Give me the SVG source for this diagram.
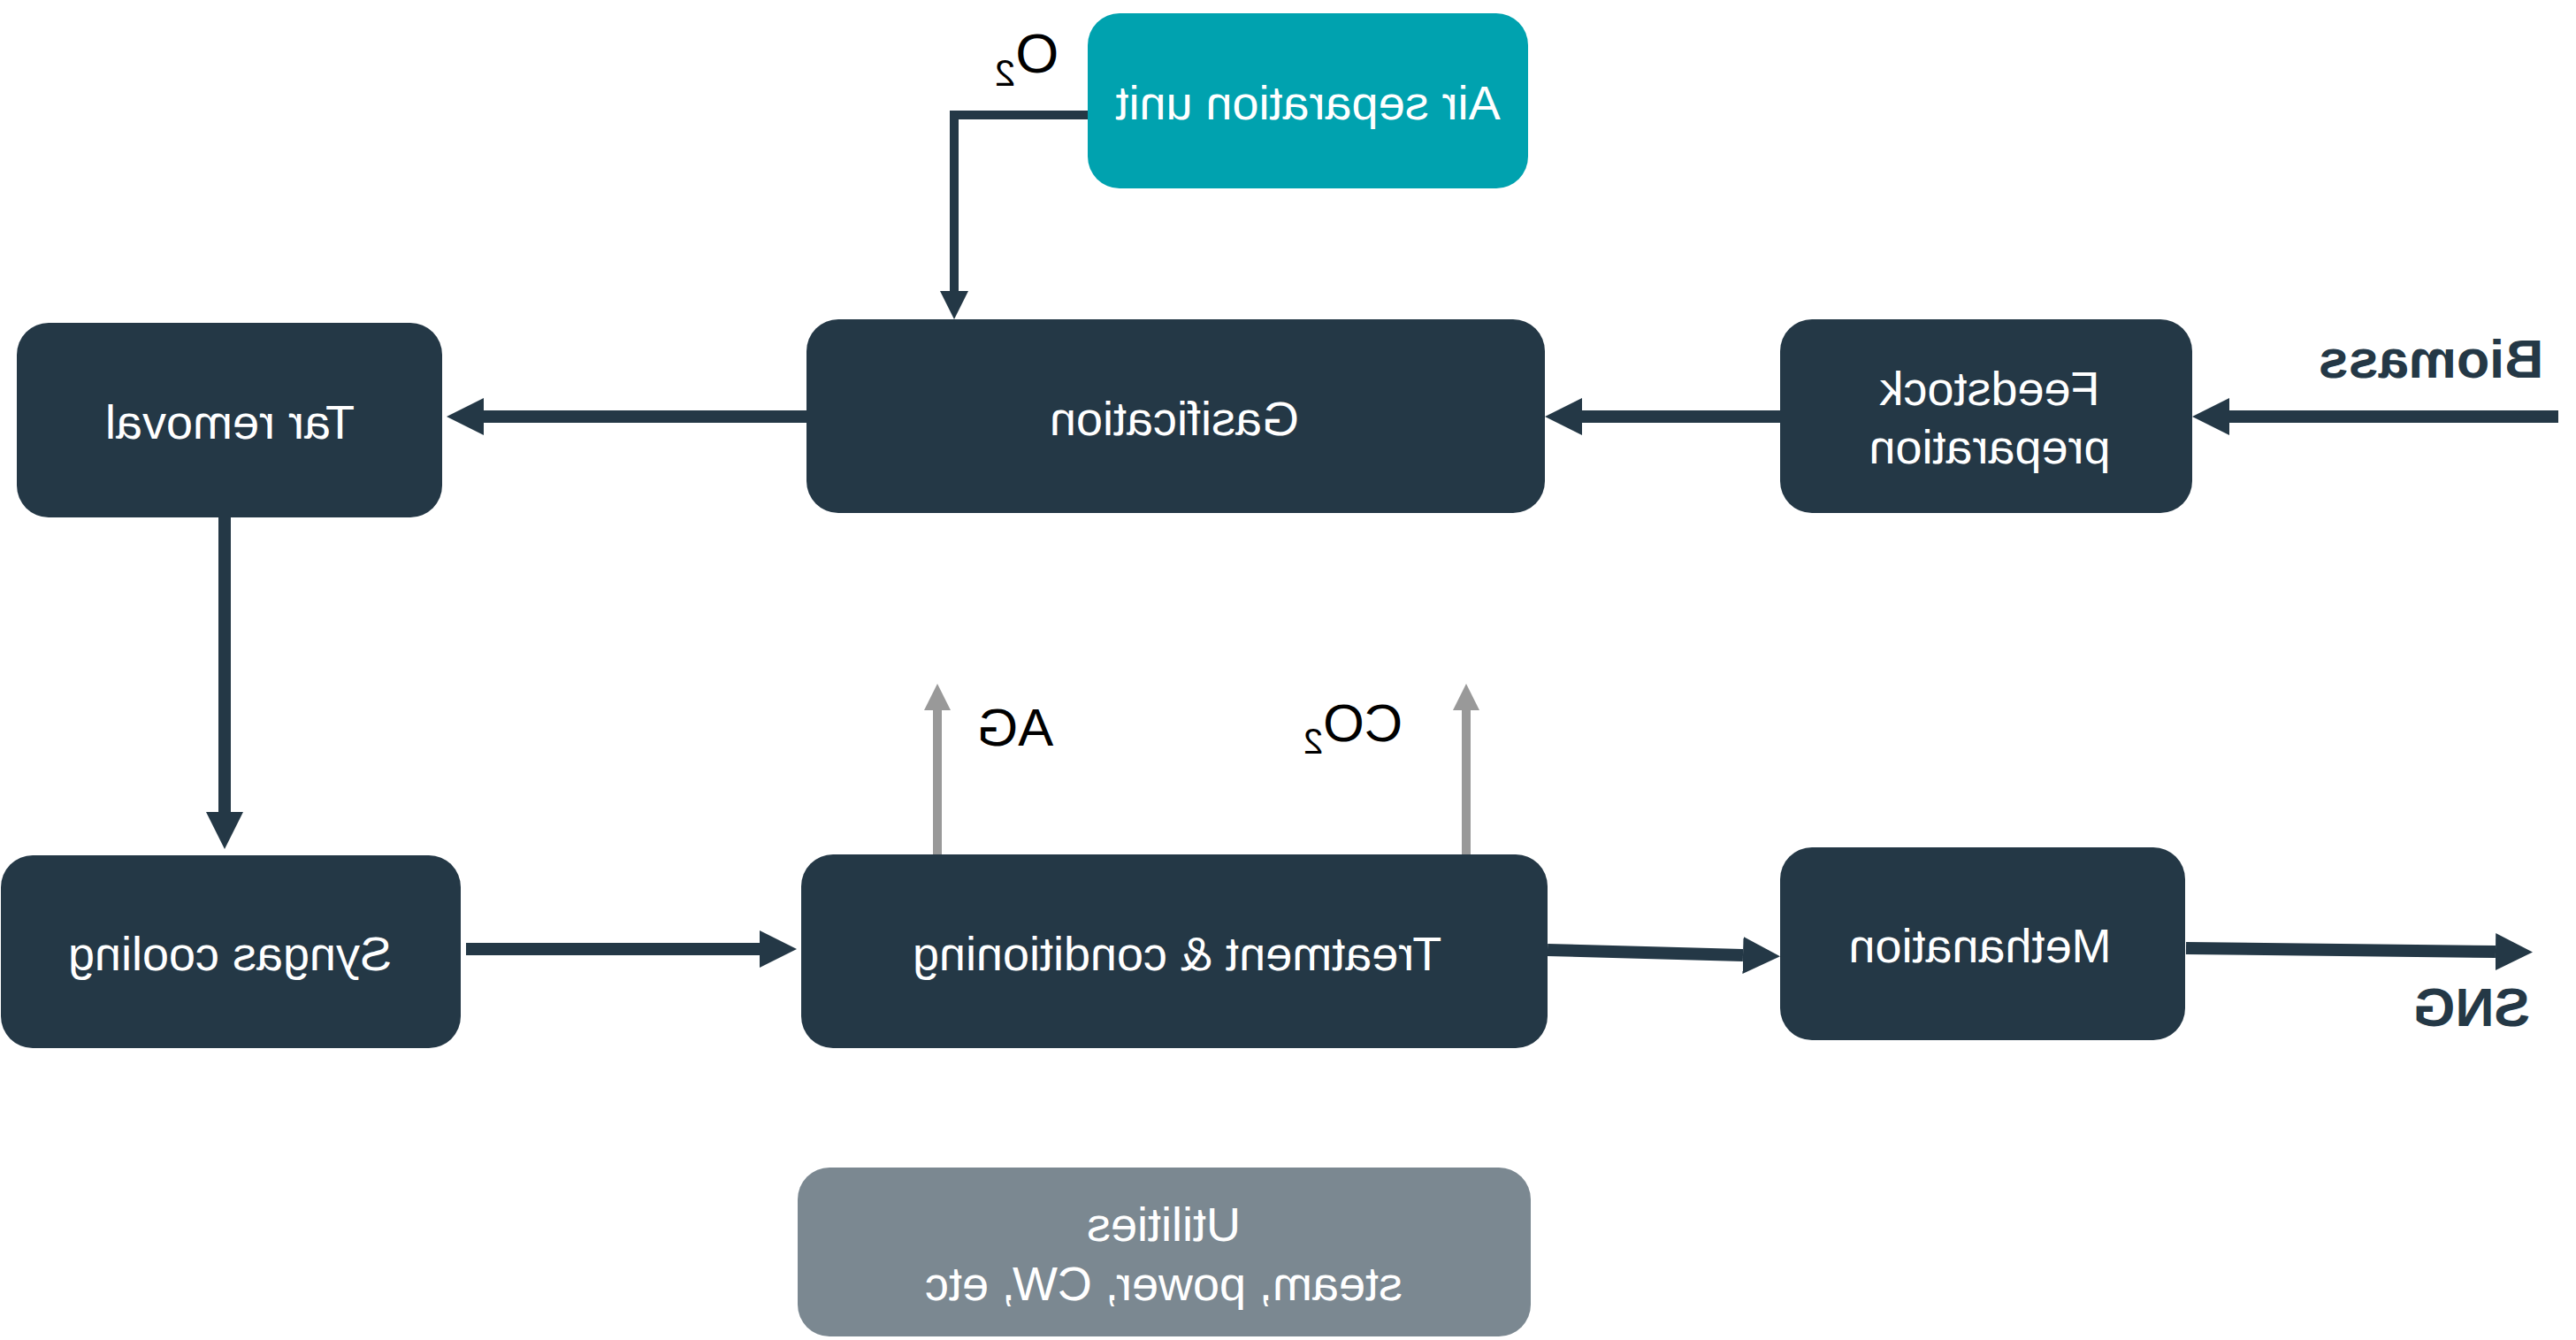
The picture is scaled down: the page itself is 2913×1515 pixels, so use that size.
<svg xmlns="http://www.w3.org/2000/svg" width="2913" height="1515" viewBox="0 0 2913 1515">
<style>
.box{fill:#243846}
.asu{fill:#00A2AF}
.util{fill:#7B8891}
.lbl{font-family:"Liberation Sans",Arial,sans-serif;font-size:54px;fill:#ffffff;text-anchor:middle}
.ext{font-family:"Liberation Sans",Arial,sans-serif;font-size:60px;fill:#000000;text-anchor:middle}
.bold{font-family:"Liberation Sans",Arial,sans-serif;font-size:61px;font-weight:bold;fill:#243846;text-anchor:middle}
.main{stroke:#243846;stroke-width:14;fill:none;marker-end:url(#ah)}
.o2{stroke:#243846;stroke-width:10;fill:none;marker-end:url(#ah2)}
.vent{stroke:#999999;stroke-width:10;fill:none;marker-end:url(#ahg)}
</style>
<defs>
<marker id="ah" markerUnits="userSpaceOnUse" markerWidth="42" markerHeight="42" refX="0" refY="21" orient="auto" viewBox="0 0 42 42"><path d="M0,0 L42,21 L0,42 z" fill="#243846"/></marker>
<marker id="ah2" markerUnits="userSpaceOnUse" markerWidth="32" markerHeight="32" refX="0" refY="16" orient="auto" viewBox="0 0 32 32"><path d="M0,0 L32,16 L0,32 z" fill="#243846"/></marker>
<marker id="ahg" markerUnits="userSpaceOnUse" markerWidth="30" markerHeight="30" refX="0" refY="15" orient="auto" viewBox="0 0 30 30"><path d="M0,0 L30,15 L0,30 z" fill="#999999"/></marker>
</defs>
<rect width="2913" height="1515" fill="#ffffff"/>
<g id="connectors">
<line class="main" x1="2893" y1="471" x2="2521" y2="471"/>
<line class="main" x1="2013" y1="471" x2="1789" y2="471"/>
<line class="main" x1="912" y1="471" x2="547" y2="471"/>
<line class="main" x1="254" y1="585" x2="254" y2="918"/>
<line class="main" x1="527" y1="1073" x2="859" y2="1073"/>
<line class="main" x1="1750" y1="1074" x2="1971" y2="1080"/>
<line class="main" x1="2472" y1="1072" x2="2822" y2="1076"/>
<path class="o2" d="M1230,130 H1079 V329"/>
<line class="vent" x1="1060" y1="966" x2="1060" y2="803"/>
<line class="vent" x1="1658" y1="966" x2="1658" y2="803"/>
</g>
<g id="asu">
<rect class="asu" x="1230" y="15" width="498" height="198" rx="36"/>
<text class="lbl" x="1479" y="135" transform="matrix(-1 0 0 1 2958 0)">Air separation unit</text>
</g>
<g id="gasification">
<rect class="box" x="912" y="361" width="835" height="219" rx="36"/>
<text class="lbl" x="1328" y="492" transform="matrix(-1 0 0 1 2656 0)">Gasification</text>
</g>
<g id="feedstock">
<rect class="box" x="2013" y="361" width="466" height="219" rx="36"/>
<text class="lbl" x="2250" y="458" transform="matrix(-1 0 0 1 4500 0)">Feedstock</text>
<text class="lbl" x="2250" y="524" transform="matrix(-1 0 0 1 4500 0)">preparation</text>
</g>
<g id="tar">
<rect class="box" x="19" y="365" width="481" height="220" rx="36"/>
<text class="lbl" x="260" y="496" transform="matrix(-1 0 0 1 520 0)">Tar removal</text>
</g>
<g id="syngas">
<rect class="box" x="1" y="967" width="520" height="218" rx="36"/>
<text class="lbl" x="260" y="1097" transform="matrix(-1 0 0 1 520 0)">Syngas cooling</text>
</g>
<g id="treatment">
<rect class="box" x="906" y="966" width="844" height="219" rx="36"/>
<text class="lbl" x="1331" y="1097" transform="matrix(-1 0 0 1 2662 0)">Treatment &amp; conditioning</text>
</g>
<g id="methanation">
<rect class="box" x="2013" y="958" width="458" height="218" rx="36"/>
<text class="lbl" x="2239" y="1088" transform="matrix(-1 0 0 1 4478 0)">Methanation</text>
</g>
<g id="utilities">
<rect class="util" x="902" y="1320" width="829" height="191" rx="36"/>
<text class="lbl" x="1316" y="1403" transform="matrix(-1 0 0 1 2632 0)">Utilities</text>
<text class="lbl" x="1316" y="1470" transform="matrix(-1 0 0 1 2632 0)">steam, power, CW, etc</text>
</g>
<g id="labels">
<text class="ext" x="1161" y="82" style="font-size:63px" transform="matrix(-1 0 0 1 2322 0)">O<tspan style="font-size:42px" dy="15">2</tspan></text>
<text class="ext" x="1148" y="843" transform="matrix(-1 0 0 1 2296 0)">AG</text>
<text class="ext" x="1530" y="838" transform="matrix(-1 0 0 1 3060 0)">CO<tspan style="font-size:40px" dy="14">2</tspan></text>
<text class="bold" x="2749" y="427" transform="matrix(-1 0 0 1 5498 0)">Biomass</text>
<text class="bold" x="2795" y="1160" transform="matrix(-1 0 0 1 5590 0)">SNG</text>
</g>
</svg>
